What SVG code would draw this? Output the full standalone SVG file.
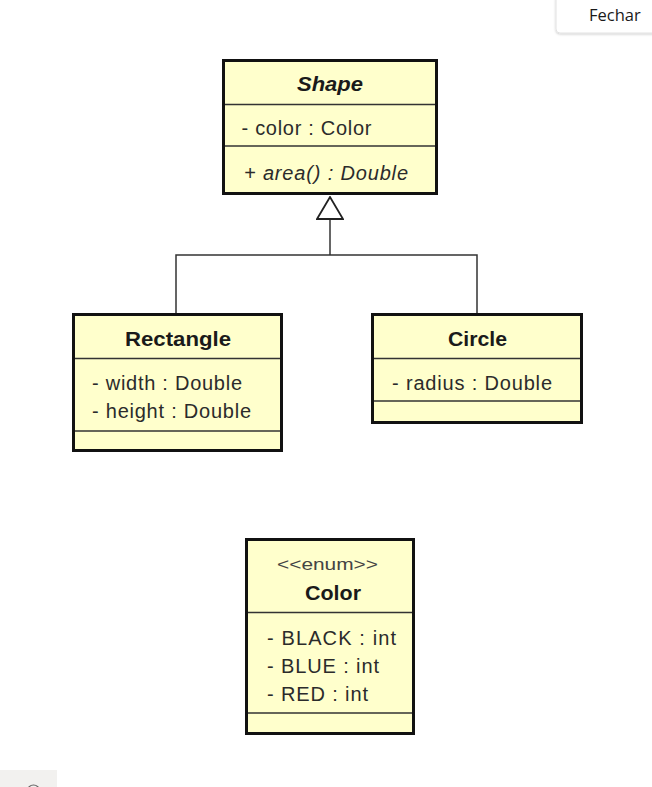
<svg xmlns="http://www.w3.org/2000/svg" width="652" height="787" viewBox="0 0 652 787">
<style>
  .box { fill: #ffffcc; stroke: #111; stroke-width: 3; }
  .sep { stroke: #333; stroke-width: 1.5; }
  .t { font-family: "Liberation Sans", Arial, sans-serif; font-size: 20px; fill: #2b2b2b; }
  .b { font-weight: bold; font-size: 21px; fill: #1a1a1a; }
  .i { font-style: italic; }
  .st { font-size: 17px; fill: #444; }
  .conn { fill: none; stroke: #333; stroke-width: 1.5; }
</style>
<defs>
  <marker id="gen" viewBox="-1 -1 24 28" markerWidth="24" markerHeight="28" refX="22" refY="13" orient="auto" markerUnits="userSpaceOnUse">
    <path d="M0,0 L22,13 L0,26 Z" fill="#fff" stroke="#222" stroke-width="1.8"/>
  </marker>
  <filter id="sh" x="-20%" y="-50%" width="140%" height="200%">
    <feDropShadow dx="0" dy="1" stdDeviation="1.2" flood-color="#000" flood-opacity="0.18"/>
  </filter>
</defs>
<rect width="652" height="787" fill="#fff"/>

<g id="connectors">
  <path class="conn" d="M176,313 V255 H477 V313"/>
  <path class="conn" d="M330,255 V197" stroke-width="2" marker-end="url(#gen)"/>
</g>

<g id="shape">
  <rect class="box" x="223.5" y="60.5" width="213" height="133"/>
  <line class="sep" x1="225" y1="104.5" x2="435" y2="104.5"/>
  <line class="sep" x1="225" y1="146" x2="435" y2="146"/>
  <text class="t b i" x="297" y="91" textLength="66" lengthAdjust="spacingAndGlyphs">Shape</text>
  <text class="t" x="241.5" y="135" textLength="130" lengthAdjust="spacing">- color : Color</text>
  <text class="t i" x="244" y="179.5" textLength="164" lengthAdjust="spacing">+ area() : Double</text>
</g>

<g id="rectangle">
  <rect class="box" x="73.5" y="314.5" width="208" height="136"/>
  <line class="sep" x1="75" y1="358.5" x2="280" y2="358.5"/>
  <line class="sep" x1="75" y1="431" x2="280" y2="431"/>
  <text class="t b" x="125" y="346" textLength="106" lengthAdjust="spacingAndGlyphs">Rectangle</text>
  <text class="t" x="92" y="389.5" textLength="150" lengthAdjust="spacing">- width : Double</text>
  <text class="t" x="92" y="417.5" textLength="159" lengthAdjust="spacing">- height : Double</text>
</g>

<g id="circle">
  <rect class="box" x="372.5" y="314.5" width="209" height="108"/>
  <line class="sep" x1="374" y1="358.5" x2="580" y2="358.5"/>
  <line class="sep" x1="374" y1="401" x2="580" y2="401"/>
  <text class="t b" x="448" y="346" textLength="59" lengthAdjust="spacingAndGlyphs">Circle</text>
  <text class="t" x="392" y="389.5" textLength="160" lengthAdjust="spacing">- radius : Double</text>
</g>

<g id="color">
  <rect class="box" x="246.5" y="539.5" width="167" height="194"/>
  <line class="sep" x1="248" y1="612.5" x2="412" y2="612.5"/>
  <line class="sep" x1="248" y1="713" x2="412" y2="713"/>
  <text class="t st" x="277" y="570" textLength="101" lengthAdjust="spacingAndGlyphs">&lt;&lt;enum&gt;&gt;</text>
  <text class="t b" x="305" y="600" textLength="56" lengthAdjust="spacingAndGlyphs">Color</text>
  <text class="t" x="267" y="644.5" textLength="129" lengthAdjust="spacing">- BLACK : int</text>
  <text class="t" x="267" y="672.5" textLength="112" lengthAdjust="spacing">- BLUE : int</text>
  <text class="t" x="267" y="700.5" textLength="101" lengthAdjust="spacing">- RED : int</text>
</g>

<g id="fechar">
  <path d="M556,-2 V29 Q556,33 560,33 H654 V-2 Z" fill="#fff" stroke="#e2e2e2" stroke-width="1" filter="url(#sh)"/>
  <text x="589" y="21" font-family="'Open Sans', 'Noto Sans', sans-serif" font-size="16.5" fill="#1a1a1a">Fechar</text>
</g>

<g id="corner">
  <rect x="0" y="770" width="57" height="17" fill="#f2f1ef"/>
  <circle cx="33.5" cy="791" r="6" fill="none" stroke="#666" stroke-width="1.2"/>
</g>
</svg>
